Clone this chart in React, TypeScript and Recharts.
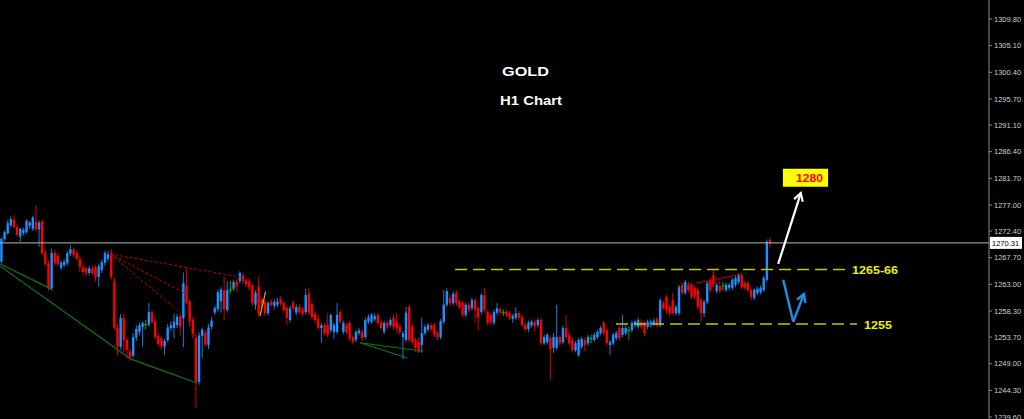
import React from 'react';
import { ComposedChart, Bar, XAxis, YAxis, ReferenceLine, ReferenceArea } from 'recharts';

// ---- candle data (GOLD H1) ----
const opens = [
1267.0,1271.0,1272.0,1273.4,1274.4,1273.1,1271.4,1272.0,1272.2,1273.3,1272.8,1274.0,1272.7,1274.1,1268.5,1266.7,1262.3,1268.5,1268.1,1265.9,
1266.4,1266.7,1268.4,1269.1,1268.6,1267.5,1266.0,1265.8,1265.0,1265.8,1266.0,1264.3,1265.5,1266.8,1267.5,1268.6,1263.5,1255.3,1252.0,1257.0,
1253.2,1251.2,1250.4,1253.6,1254.6,1255.5,1255.9,1255.9,1258.1,1256.5,1253.9,1253.4,1252.0,1253.2,1255.3,1255.3,1255.8,1257.4,1257.0,1262.8,
1260.0,1256.8,1253.6,1245.8,1253.9,1254.5,1252.3,1255.5,1258.0,1258.6,1260.0,1262.0,1258.5,1262.0,1262.2,1263.5,1263.6,1264.6,1263.7,1263.5,
1262.8,1259.4,1262.6,1260.4,1259.9,1257.9,1259.9,1259.2,1259.4,1260.4,1259.7,1258.8,1256.7,1259.7,1258.0,1259.0,1258.6,1258.1,1261.4,1259.5,
1257.8,1256.9,1255.3,1255.8,1255.8,1254.9,1254.6,1254.6,1258.1,1254.6,1255.8,1256.2,1253.7,1253.2,1254.4,1254.6,1253.7,1256.4,1256.4,1256.8,
1257.6,1256.4,1254.6,1256.2,1255.8,1257.1,1256.4,1255.5,1253.7,1253.2,1259.0,1255.5,1253.2,1252.8,1252.3,1254.4,1255.0,1255.8,1255.8,1254.4,
1253.7,1256.4,1259.4,1260.6,1259.7,1261.5,1260.0,1259.7,1257.6,1259.4,1258.8,1260.2,1258.8,1258.1,1261.1,1258.1,1257.6,1256.2,1258.0,1258.6,
1258.0,1258.1,1257.9,1256.9,1257.1,1257.9,1257.2,1255.8,1255.1,1255.8,1256.4,1255.8,1256.7,1252.6,1252.8,1253.5,1251.8,1251.8,1253.7,1252.8,
1255.3,1254.1,1253.2,1251.4,1250.5,1252.0,1253.2,1252.6,1253.4,1253.2,1253.7,1254.4,1256.2,1254.9,1252.3,1252.6,1253.5,1255.3,1254.1,1254.4,
1254.9,1254.9,1255.8,1255.5,1256.4,1256.2,1255.5,1255.8,1256.0,1256.9,1255.8,1259.7,1260.8,1259.0,1260.2,1257.9,1257.9,1262.9,1261.5,1262.9,
1262.9,1262.4,1262.0,1260.2,1257.9,1259.9,1263.8,1264.6,1261.8,1262.7,1262.7,1262.0,1262.4,1262.4,1262.9,1263.4,1264.6,1263.2,1263.2,1262.0,
1260.6,1261.5,1261.6,1262.0,1263.8,1270.8,
];
const highs = [
1271.3,1272.5,1274.3,1275.0,1275.2,1273.5,1273.0,1273.0,1274.5,1274.2,1275.1,1277.0,1274.3,1274.4,1269.2,1267.2,1269.3,1269.1,1268.5,1267.2,
1267.4,1268.9,1269.9,1269.5,1268.9,1268.0,1266.6,1266.1,1266.3,1266.3,1266.4,1266.6,1267.4,1268.9,1268.9,1269.2,1264.2,1256.0,1257.8,1257.8,
1253.6,1251.6,1254.4,1255.8,1256.3,1256.5,1256.7,1259.7,1258.5,1257.0,1254.4,1253.8,1253.4,1256.0,1256.5,1257.8,1257.8,1257.8,1265.1,1265.8,
1260.4,1257.2,1254.4,1254.6,1255.4,1255.0,1256.0,1257.2,1259.2,1262.1,1262.5,1264.3,1263.5,1263.6,1263.8,1264.0,1265.3,1265.0,1264.1,1264.0,
1263.2,1262.0,1264.3,1260.8,1260.3,1260.1,1260.4,1260.4,1260.6,1260.9,1260.0,1259.2,1259.2,1260.2,1259.5,1259.5,1259.0,1262.2,1262.4,1260.0,
1258.2,1257.6,1256.2,1256.2,1257.9,1257.9,1256.2,1259.7,1258.5,1256.6,1256.2,1256.6,1254.0,1255.0,1255.3,1255.0,1257.1,1257.7,1258.0,1257.9,
1258.0,1256.8,1256.6,1256.6,1257.1,1257.6,1257.9,1256.0,1254.8,1259.0,1259.4,1256.0,1253.6,1253.7,1257.1,1255.9,1256.2,1256.2,1256.2,1254.8,
1256.9,1262.0,1262.3,1261.2,1261.8,1262.0,1260.4,1260.1,1259.8,1259.8,1260.7,1260.6,1259.2,1261.5,1262.4,1258.5,1258.0,1258.5,1259.7,1259.0,
1258.6,1258.5,1258.3,1257.8,1259.0,1258.3,1257.6,1256.2,1256.6,1256.8,1256.8,1257.1,1257.1,1254.2,1254.4,1254.0,1254.4,1259.4,1254.1,1255.7,
1257.6,1254.5,1253.6,1253.0,1253.6,1253.8,1253.6,1254.1,1254.2,1254.5,1255.0,1255.7,1256.6,1255.3,1253.2,1254.5,1254.8,1255.7,1257.6,1255.8,
1255.6,1256.6,1256.8,1257.1,1256.8,1256.6,1256.8,1256.8,1257.0,1257.3,1260.6,1260.1,1261.2,1259.4,1261.5,1259.4,1262.9,1263.3,1263.8,1263.5,
1263.3,1262.8,1262.4,1260.6,1260.3,1263.6,1264.2,1265.4,1263.3,1263.6,1263.4,1263.3,1263.3,1264.2,1264.5,1265.0,1265.0,1263.6,1263.6,1262.4,
1262.4,1262.6,1262.8,1264.5,1270.9,1271.2,
];
const lows = [
1266.7,1270.6,1271.8,1273.0,1272.8,1271.4,1270.5,1271.6,1271.9,1272.8,1272.4,1272.3,1269.6,1268.1,1266.2,1261.9,1261.9,1266.4,1266.2,1265.5,
1266.0,1266.3,1268.0,1267.8,1267.2,1265.2,1264.6,1264.4,1264.6,1264.7,1263.5,1262.6,1265.0,1266.3,1267.0,1263.8,1254.9,1250.5,1251.5,1251.0,
1250.0,1249.5,1250.0,1253.0,1254.0,1252.0,1255.0,1255.5,1256.0,1253.2,1251.9,1251.5,1250.5,1252.8,1254.8,1253.5,1255.3,1254.0,1251.9,1259.4,
1255.5,1253.5,1241.2,1245.3,1250.0,1252.0,1251.6,1255.0,1257.6,1258.2,1258.0,1256.7,1258.0,1261.4,1261.8,1261.6,1263.2,1263.0,1262.6,1262.0,
1259.2,1258.5,1257.3,1258.9,1257.4,1257.5,1259.0,1258.6,1259.0,1259.2,1258.0,1255.8,1256.3,1258.3,1257.6,1257.7,1257.3,1257.7,1257.5,1256.8,
1256.2,1254.9,1252.7,1254.0,1253.7,1254.5,1253.4,1254.2,1256.0,1254.2,1254.2,1253.0,1252.4,1252.8,1254.0,1253.0,1253.3,1256.0,1256.0,1256.4,
1255.8,1254.9,1254.2,1255.1,1255.4,1255.0,1254.4,1254.1,1249.8,1252.8,1252.8,1252.3,1251.1,1250.9,1250.9,1254.0,1254.6,1254.6,1253.7,1253.2,
1253.3,1256.0,1259.0,1259.2,1259.3,1259.2,1258.6,1257.2,1257.2,1258.0,1258.4,1256.4,1255.0,1257.7,1258.0,1255.8,1255.9,1255.8,1257.6,1257.6,
1257.4,1257.2,1256.7,1256.2,1256.7,1256.7,1255.4,1254.7,1254.6,1255.4,1254.6,1255.4,1252.2,1252.3,1252.4,1246.1,1250.9,1251.4,1252.2,1252.4,
1253.3,1252.2,1251.0,1251.0,1250.2,1251.6,1251.2,1252.2,1252.6,1252.8,1253.3,1254.0,1254.0,1252.2,1250.5,1252.2,1253.1,1253.1,1253.7,1254.0,
1253.2,1254.5,1255.4,1255.1,1255.1,1253.8,1255.1,1255.4,1255.6,1255.4,1255.4,1258.4,1257.8,1257.4,1257.6,1257.5,1257.5,1261.1,1261.1,1261.6,
1260.4,1260.4,1258.6,1256.4,1257.2,1259.5,1261.6,1262.5,1261.4,1261.4,1261.8,1261.6,1262.0,1262.0,1262.5,1263.0,1262.1,1262.0,1261.6,1260.2,
1260.2,1261.1,1261.2,1261.6,1263.4,1269.5,
];
const closes = [
1271.0,1272.2,1273.8,1274.5,1273.1,1271.7,1272.8,1272.6,1274.2,1273.9,1274.8,1272.7,1273.9,1268.5,1266.6,1262.3,1268.5,1266.7,1266.6,1266.8,
1267.0,1268.5,1269.2,1268.2,1267.6,1266.1,1265.2,1265.0,1265.8,1265.0,1264.3,1266.2,1266.9,1268.5,1268.3,1264.3,1255.3,1252.0,1257.1,1253.2,
1251.4,1250.1,1253.7,1255.1,1255.8,1256.2,1255.9,1258.1,1256.4,1253.7,1252.5,1252.1,1253.0,1255.4,1255.8,1256.4,1257.3,1255.5,1263.2,1259.8,
1256.5,1254.2,1245.8,1254.0,1255.0,1252.4,1255.4,1256.6,1258.8,1261.6,1262.1,1258.6,1262.0,1262.0,1263.4,1262.6,1265.0,1263.6,1263.0,1262.5,
1259.7,1261.5,1257.8,1259.4,1257.9,1259.7,1259.4,1259.9,1259.9,1259.6,1258.5,1257.1,1258.8,1258.8,1259.0,1258.1,1257.8,1261.1,1258.0,1257.2,
1256.7,1255.3,1255.8,1254.4,1254.1,1257.6,1255.8,1257.6,1256.4,1256.2,1254.6,1253.5,1252.8,1254.6,1254.9,1253.5,1256.7,1257.2,1257.6,1257.4,
1256.2,1255.3,1256.2,1255.5,1256.7,1255.5,1255.3,1254.6,1254.4,1258.0,1253.2,1252.8,1251.8,1251.1,1254.4,1255.5,1255.8,1255.1,1254.1,1253.7,
1256.5,1259.4,1261.8,1259.7,1261.3,1259.7,1259.0,1257.6,1259.4,1258.5,1260.2,1258.5,1257.1,1261.1,1258.5,1256.2,1256.4,1258.1,1258.8,1258.0,
1258.0,1257.6,1257.1,1257.4,1257.9,1257.1,1255.8,1255.1,1256.2,1256.4,1255.6,1256.7,1252.6,1253.7,1254.1,1251.6,1253.7,1253.7,1252.6,1255.3,
1253.7,1252.6,1251.4,1252.6,1253.2,1253.4,1252.3,1253.7,1253.4,1254.1,1254.6,1255.3,1254.4,1252.6,1252.8,1254.1,1254.4,1253.5,1255.3,1255.3,
1254.9,1256.2,1256.4,1256.7,1255.5,1254.4,1256.4,1256.4,1256.6,1255.8,1260.2,1258.8,1258.5,1257.9,1257.9,1259.0,1262.5,1261.5,1263.4,1262.0,
1260.8,1260.8,1259.0,1257.9,1259.9,1263.2,1262.0,1262.9,1262.9,1261.8,1262.7,1262.9,1262.9,1263.8,1264.1,1264.6,1262.5,1262.4,1262.0,1260.8,
1262.0,1262.2,1262.4,1264.1,1270.5,1270.3,
];

const priceTicks = [1309.8,1305.1,1300.4,1295.7,1291.1,1286.4,1281.7,1277.0,1272.4,1267.7,1263.0,1258.3,1253.7,1249.0,1244.3,1239.6];
const currentPrice = 1270.31;
const resistance = { y: 1265.6, from: 144.6, to: 268.9, label: '1265-66' };
const support = { y: 1256.0, from: 195.9, to: 272.7, label: '1255' };
const target = { x1: 249.1, x2: 263.5, y1: 1280.2, y2: 1283.4, label: '1280' };
const whiteArrow = [{ x: 247.6, y: 1266.6 }, { x: 254.8, y: 1279.1 }];
const blueArrow = [{ x: 249.2, y: 1263.8 }, { x: 252.4, y: 1256.4 }, { x: 255.8, y: 1261.3 }];
const redFan = [
  [{ x: 34.6, y: 1268.35 }, { x: 76.0, y: 1264.3 }],
  [{ x: 34.6, y: 1268.35 }, { x: 59.5, y: 1261.1 }],
  [{ x: 34.6, y: 1268.35 }, { x: 56.9, y: 1258.1 }],
];
const redLine = [{ x: 221.4, y: 1263.2 }, { x: 236.1, y: 1264.8 }];
const greenLines = [
  [{ x: -0.45, y: 1266.6 }, { x: 15.8, y: 1262.2 }],
  [{ x: -0.45, y: 1266.2 }, { x: 41.3, y: 1249.8 }],
  [{ x: 41.3, y: 1249.8 }, { x: 62.3, y: 1245.6 }],
  [{ x: 114.3, y: 1252.7 }, { x: 129.4, y: 1250.0 }],
  [{ x: 114.3, y: 1252.7 }, { x: 134.5, y: 1251.2 }],
];
const yellowLine = [{ x: 82.4, y: 1257.4 }, { x: 84.2, y: 1261.7 }];

const X_DOMAIN: [number, number] = [-0.478, 314.8];
const Y_DOMAIN: [number, number] = [1239.25, 1313.15];

const data = opens.map((o, i) => ({ i, o, h: highs[i], l: lows[i], c: closes[i], range: [lows[i], highs[i]] }));

const BLUE = '#1e90ff';
const RED = '#ff0000';
const GREEN = '#00c800';

const Candle = (props: any) => {
  const { x, y, width, height, index } = props;
  const p = props.payload && props.payload.o !== undefined ? props.payload : data[index];
  if (!p) return null;
  const top = Math.min(y, y + height);
  const h = Math.abs(height);
  const span = p.h - p.l;
  const ratio = span > 0 ? h / span : 0;
  const cx = x + width / 2;
  const yO = top + (p.h - p.o) * ratio;
  const yC = top + (p.h - p.c) * ratio;
  const doji = p.o === p.c;
  const color = doji ? GREEN : p.c > p.o ? BLUE : RED;
  const bt = Math.min(yO, yC);
  const bb = Math.max(yO, yC);
  return (
    <g>
      <line x1={cx} x2={cx} y1={top} y2={top + h} stroke={color} strokeWidth={1} strokeOpacity={0.85} />
      {doji ? (
        <line x1={cx - 1.5} x2={cx + 1.5} y1={yO} y2={yO} stroke={color} strokeWidth={1} />
      ) : (
        <rect x={cx - 1.2} y={bt} width={2.4} height={Math.max(bb - bt, 1)} fill={color} />
      )}
    </g>
  );
};

const headLines = (x1: number, y1: number, x2: number, y2: number, len: number, color: string, w: number) => {
  const a = Math.atan2(y2 - y1, x2 - x1);
  const d = Math.PI / 6;
  const ax = x2 - len * Math.cos(a - d);
  const ay = y2 - len * Math.sin(a - d);
  const bx = x2 - len * Math.cos(a + d);
  const by = y2 - len * Math.sin(a + d);
  return (
    <path d={`M${ax},${ay} L${x2},${y2} L${bx},${by}`} fill="none" stroke={color} strokeWidth={w} strokeLinejoin="miter" />
  );
};

const arrowShape = (color: string, w: number) => (p: any) => (
  <g>
    <line x1={p.x1} y1={p.y1} x2={p.x2} y2={p.y2} stroke={color} strokeWidth={w} />
    {headLines(p.x1, p.y1, p.x2, p.y2, 9, color, w)}
  </g>
);

const plainShape = (color: string, w: number) => (p: any) => (
  <line x1={p.x1} y1={p.y1} x2={p.x2} y2={p.y2} stroke={color} strokeWidth={w} />
);

const levelLabel = (text: string, width: number) => (lp: any) => {
  const vb = lp.viewBox || {};
  return (
    <text x={vb.x + vb.width + 7} y={vb.y + 4.5} fill="#f0f000" fontSize={11.5} fontWeight="bold"
      fontFamily="Liberation Sans, Arial, sans-serif" textLength={width} lengthAdjust="spacingAndGlyphs">
      {text}
    </text>
  );
};

const priceBox = (lp: any) => {
  const vb = lp.viewBox || {};
  const x = vb.x + vb.width + 1;
  return (
    <g>
      <rect x={x} y={vb.y - 6} width={32} height={12} fill="#ffffff" />
      <text x={x + 2} y={vb.y + 3} fill="#000" fontSize={7.5} fontFamily="Liberation Sans, Arial, sans-serif">
        {currentPrice.toFixed(2)}
      </text>
    </g>
  );
};

const targetLabel = (lp: any) => {
  const vb = lp.viewBox || {};
  return (
    <text x={vb.x + vb.width - 5} y={vb.y + vb.height / 2 + 4} textAnchor="end" fill="#ff0000" fontSize={11}
      fontWeight="bold" fontFamily="Liberation Sans, Arial, sans-serif" textLength={27} lengthAdjust="spacingAndGlyphs">
      {target.label}
    </text>
  );
};

export default function App() {
  return (
    <div style={{ position: 'relative', width: 1024, height: 419, background: '#000' }}>
      <style>{`body{margin:0;background:#000;}`}</style>
      <ComposedChart width={1024} height={419} data={data} margin={{ top: 0, right: 0, bottom: 0, left: 0 }}>
        <XAxis type="number" dataKey="i" domain={X_DOMAIN} allowDataOverflow hide />
        <YAxis
          orientation="right"
          type="number"
          domain={Y_DOMAIN}
          allowDataOverflow
          ticks={priceTicks}
          interval={0}
          width={35}
          stroke="#8a8a8a"
          tickSize={3}
          tickMargin={2}
          tickLine={{ stroke: '#8a8a8a' }}
          tick={{ fill: '#d0d0d0', fontSize: 7.5, fontFamily: 'Liberation Sans, Arial, sans-serif' }}
          tickFormatter={(v: number) => v.toFixed(2)}
        />
        {greenLines.map((s, k) => (
          <ReferenceLine key={'g' + k} segment={s} stroke="#0f7a0f" strokeWidth={1.2} ifOverflow="visible" />
        ))}
        {redFan.map((s, k) => (
          <ReferenceLine key={'r' + k} segment={s} stroke="#c00000" strokeWidth={1} strokeDasharray="3 2" ifOverflow="visible" />
        ))}
        <ReferenceLine segment={redLine} stroke="#c00000" strokeWidth={1} ifOverflow="visible" />
        <ReferenceLine segment={yellowLine} stroke="#d8b020" strokeWidth={1.2} ifOverflow="visible" />
        <ReferenceLine y={currentPrice} stroke="#b8b8b8" strokeWidth={1} label={priceBox} />
        <ReferenceLine
          segment={[{ x: resistance.from, y: resistance.y }, { x: resistance.to, y: resistance.y }]}
          stroke="#c8c400" strokeWidth={1.5} strokeDasharray="12 6"
          label={levelLabel(resistance.label, 46)}
        />
        <ReferenceLine
          segment={[{ x: support.from, y: support.y }, { x: support.to, y: support.y }]}
          stroke="#c8c400" strokeWidth={1.5} strokeDasharray="12 6"
          label={levelLabel(support.label, 28)}
        />
        <Bar dataKey="range" barSize={3} shape={<Candle />} isAnimationActive={false} />
        <ReferenceArea x1={target.x1} x2={target.x2} y1={target.y1} y2={target.y2} fill="#ffff00" fillOpacity={1}
          stroke="none" label={targetLabel} />
        <ReferenceLine segment={whiteArrow} shape={arrowShape('#ffffff', 2.2)} />
        <ReferenceLine segment={[blueArrow[0], blueArrow[1]]} shape={plainShape('#1e8fe0', 2.4)} />
        <ReferenceLine segment={[blueArrow[1], blueArrow[2]]} shape={arrowShape('#1e8fe0', 2.4)} />
      </ComposedChart>
      <svg width={1024} height={419} style={{ position: 'absolute', left: 0, top: 0, pointerEvents: 'none' }}>
        <text x={502} y={75.7} fill="#ffffff" fontSize={13} fontWeight="bold" fontFamily="Liberation Sans, Arial, sans-serif"
          textLength={47} lengthAdjust="spacingAndGlyphs">GOLD</text>
        <text x={500} y={105} fill="#ffffff" fontSize={13} fontWeight="bold" fontFamily="Liberation Sans, Arial, sans-serif"
          textLength={62} lengthAdjust="spacingAndGlyphs">H1 Chart</text>
      </svg>
    </div>
  );
}
